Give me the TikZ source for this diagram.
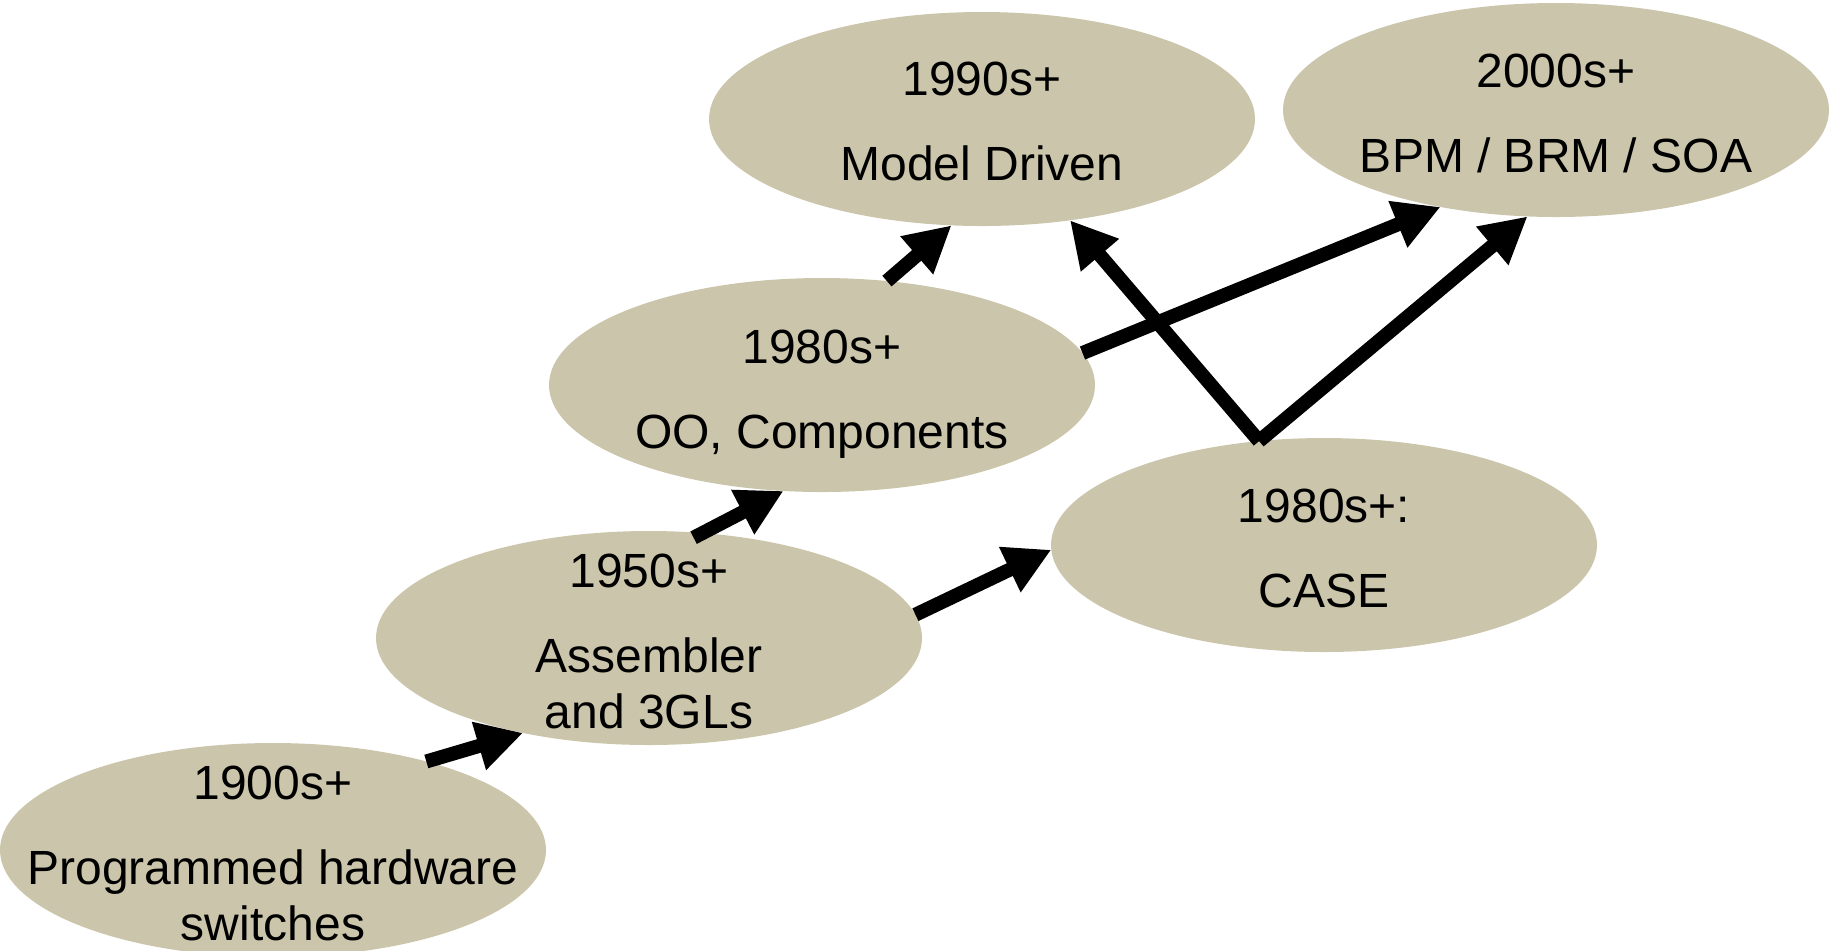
\documentclass[tikz,border=0pt]{standalone}
\usepackage{fontspec}
\setmainfont{Liberation Sans}
\usetikzlibrary{arrows.meta,shapes.geometric}
\definecolor{erafill}{HTML}{CBC6AB}
\tikzset{
  era/.style={ellipse,fill=erafill,minimum width=273pt,minimum height=107pt,inner sep=0pt,outer sep=0pt},
  eratext/.style={align=center,font=\fontsize{24}{28}\selectfont,inner sep=0pt},
  flow/.style={line width=7pt,-{Triangle[length=23pt,width=23.5pt]}}
}

\begin{document}
\begin{tikzpicture}[x=0.5pt,y=-0.5pt]
  \useasboundingbox (0,0) rectangle (1831,950);
  % the eras
  \foreach \n/\x/\y in {hw/273/850,asm/649/638,oo/822/385,md/982/119,bpm/1556/110,cs/1324/545}{\node[era] (\n) at (\x,\y) {};}
  % how one led to the next
  \draw[flow] (hw.30) -- (asm.217);
  \draw[flow,shorten <=-5pt] (asm.63) -- (oo.250);
  \draw[flow] (oo.58) -- (md.254);
  \draw[flow] (asm.5) -- (cs.181);
  \draw[flow] (oo.7) -- (bpm.220);
  \draw[flow] (cs.122) -- (bpm.255);
  \draw[flow] (cs.122) -- (md.311);
  \node[eratext] (hw-t) at ([yshift=-1.5pt]hw) {1900s+\\[14.5pt]Programmed hardware\\switches};
  \node[eratext] (asm-t) at ([yshift=-1.5pt]asm) {1950s+\\[14.5pt]Assembler\\and 3GLs};
  \node[eratext] (oo-t) at ([yshift=-4.5pt]oo) {1980s+\\[14.5pt]OO, Components};
  \node[eratext] (md-t) at ([yshift=-1pt]md) {1990s+\\[14.5pt]Model Driven};
  \node[eratext] (bpm-t) at ([yshift=-1.5pt]bpm) {2000s+\\[14.5pt]BPM / BRM / SOA};
  \node[eratext] (cs-t) at ([yshift=-1.5pt]cs) {1980s+:\\[14.5pt]CASE};
\end{tikzpicture}
\end{document}
